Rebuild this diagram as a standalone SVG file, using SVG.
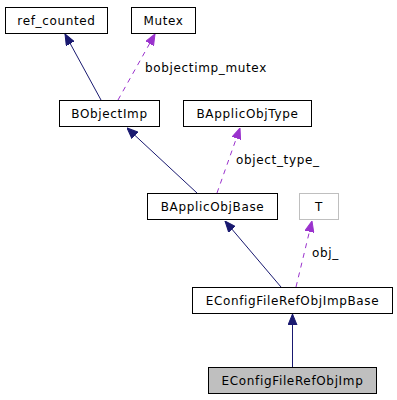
<svg xmlns="http://www.w3.org/2000/svg" width="397" height="400" viewBox="0 0 397 400">
<style>
.box{fill:#ffffff;stroke:#000000;stroke-width:1}
.grey{fill:#ffffff;stroke:#bfbfbf;stroke-width:1}
.cur{fill:#bfbfbf;stroke:#000000;stroke-width:1}
text{font-family:"DejaVu Sans",sans-serif;font-size:12px;letter-spacing:0.65px;fill:#000000}
.c{text-anchor:middle}
.inh{stroke:#191970;stroke-width:1;fill:none;marker-end:url(#ah)}
.use{stroke:#9a32cd;stroke-width:1;fill:none;stroke-dasharray:5,5;marker-end:url(#au)}
</style>
<defs>
<marker id="ah" markerUnits="userSpaceOnUse" markerWidth="11" markerHeight="10" refX="11" refY="5" orient="auto">
<path d="M0,0.5 L11,5 L0,9.5 z" fill="#191970" stroke="#191970"/>
</marker>
<marker id="au" markerUnits="userSpaceOnUse" markerWidth="11" markerHeight="10" refX="11" refY="5" orient="auto">
<path d="M0,0.5 L11,5 L0,9.5 z" fill="#9a32cd" stroke="#9a32cd"/>
</marker>
</defs>
<g id="connectors">
<path class="inh" d="M101,100 L65,34"/>
<path class="use" d="M118,100 L155,34"/>
<text x="145" y="72">bobjectimp_mutex</text>
<path class="inh" d="M197,193 L127,128"/>
<path class="use" d="M217,193 L240,128"/>
<text x="236" y="164">object_type_</text>
<path class="inh" d="M281,287 L225,221"/>
<path class="use" d="M296,287 L312,221"/>
<text x="312" y="257">obj_</text>
<path class="inh" d="M292.5,367 L292.5,314"/>
</g>
<g id="ref_counted"><rect class="box" x="5.5" y="7.5" width="102" height="26"/><text class="c" x="56.5" y="24.5">ref_counted</text></g>
<g id="Mutex"><rect class="box" x="131.5" y="7.5" width="64" height="26"/><text class="c" x="163.5" y="24.5">Mutex</text></g>
<g id="BObjectImp"><rect class="box" x="59.5" y="100.5" width="100" height="26"/><text class="c" x="109.5" y="117.5">BObjectImp</text></g>
<g id="BApplicObjType"><rect class="box" x="183.5" y="100.5" width="128" height="26"/><text class="c" x="247.5" y="117.5">BApplicObjType</text></g>
<g id="BApplicObjBase"><rect class="box" x="147.5" y="193.5" width="130" height="26"/><text class="c" x="212.5" y="210.5">BApplicObjBase</text></g>
<g id="T"><rect class="grey" x="299.5" y="193.5" width="39" height="26"/><text class="c" x="319" y="210.5">T</text></g>
<g id="EConfigFileRefObjImpBase"><rect class="box" x="192.5" y="287.5" width="200" height="26"/><text class="c" x="292.5" y="304.5">EConfigFileRefObjImpBase</text></g>
<g id="EConfigFileRefObjImp"><rect class="cur" x="208.5" y="367.5" width="168" height="26"/><text class="c" x="292.5" y="384.5">EConfigFileRefObjImp</text></g>
</svg>
